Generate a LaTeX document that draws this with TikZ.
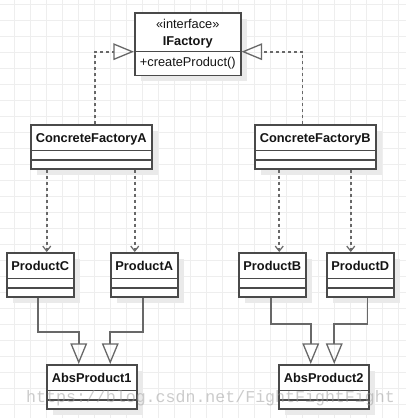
\documentclass[tikz,border=0pt]{standalone}
\usepackage{fontspec}
\setmainfont{Liberation Sans}
\newfontfamily\wmfont{Liberation Mono}
\usepackage{tikz}
\definecolor{umlline}{HTML}{4A4A4A}
\definecolor{umllink}{HTML}{686868}
\definecolor{umlshadow}{HTML}{EAEAEA}
\definecolor{gridgray}{HTML}{EEEEEE}
\usetikzlibrary{shapes.geometric, arrows, arrows.meta, shadows}
\tikzstyle{umlclass} = [rectangle, draw=umlline, line width=1.5pt, fill=white,
anchor=north west, inner sep=0pt, text height=17.5pt, text depth=26.5pt,
font=\fontsize{12.8pt}{17pt}\selectfont\bfseries,
drop shadow={shadow xshift=6pt, shadow yshift=-6pt, fill=umlshadow, opacity=1},
path picture={\draw[umlline, line width=1.5pt]
 ([yshift=-25.5pt]path picture bounding box.north west) -- ([yshift=-25.5pt]path picture bounding box.north east)
 ([yshift=-35pt]path picture bounding box.north west) -- ([yshift=-35pt]path picture bounding box.north east);}]
\tikzstyle{iface} = [rectangle, draw=umlline, line width=1.5pt, fill=white,
anchor=north west, inner sep=0pt, minimum width=106pt, minimum height=62.7pt, align=center,
drop shadow={shadow xshift=6pt, shadow yshift=-6pt, fill=umlshadow, opacity=1},
path picture={\draw[umlline, line width=1.5pt]
 ([yshift=-38.7pt]path picture bounding box.north west) -- ([yshift=-38.7pt]path picture bounding box.north east);}]
\tikzstyle{realize} = [umllink, line width=1.6pt, dash pattern=on 3pt off 3pt, -{Triangle[open, length=20.6pt, width=16.7pt, line width=1.3pt]}]
\tikzstyle{depend} = [umllink, line width=1.6pt, dash pattern=on 3pt off 3pt, -{Straight Barb[length=5pt, width=8pt, line width=1.2pt]}]
\tikzstyle{inherit} = [umllink, line width=1.8pt, -{Triangle[open, length=20.6pt, width=16.7pt, line width=1.3pt]}]
\tikzstyle{gridline} = [gridgray, line width=1pt]
\tikzstyle{watermark} = [font=\wmfont\fontsize{16.6pt}{18pt}\selectfont, text=black!40, text opacity=0.5, inner sep=0pt]

\begin{document}
\begin{tikzpicture}[x=1pt, y=-1pt, font=\fontsize{12.8pt}{17pt}\selectfont, text=black!92]
	\useasboundingbox (0,0) rectangle (406,418);
	\fill[white] (0,0) rectangle (406,418);
	% background grid
	\foreach \gx in {1,...,25} \draw[gridline] (\gx*16-1.7,0) -- (\gx*16-1.7,418);
	\foreach \gy in {0,...,25} \draw[gridline] (0,\gy*16+4) -- (406,\gy*16+4);

	\node (IFactory) [iface] at (134,12) {«interface»\\[0pt]\textbf{IFactory}\\[4.7pt]+createProduct()};
	\node (FactoryA) [umlclass, minimum width=121pt] at (30,124) {ConcreteFactoryA};
	\node (FactoryB) [umlclass, minimum width=121pt] at (254,124) {ConcreteFactoryB};
	\node (ProductC) [umlclass, minimum width=67pt] at (6,252) {ProductC};
	\node (ProductA) [umlclass, minimum width=67pt] at (110,252) {ProductA};
	\node (ProductB) [umlclass, minimum width=67pt] at (238,252) {ProductB};
	\node (ProductD) [umlclass, minimum width=67pt] at (326,252) {ProductD};
	\node (AbsProduct1) [umlclass, minimum width=90pt] at (46,364) {AbsProduct1};
	\node (AbsProduct2) [umlclass, minimum width=90pt] at (278,364) {AbsProduct2};

	\draw [realize] ([xshift=3.5pt]FactoryA.north) |- ([yshift=-7.6pt]IFactory.west);
	\draw [realize] ([xshift=-12.8pt]FactoryB.north) |- ([yshift=-7.6pt]IFactory.east);
	\draw [depend] ([xshift=6.5pt]ProductC.north |- FactoryA.south) -- ([xshift=6.5pt]ProductC.north);
	\draw [depend] ([xshift=-9.5pt]ProductA.north |- FactoryA.south) -- ([xshift=-9.5pt]ProductA.north);
	\draw [depend] ([xshift=7pt]ProductB.north |- FactoryB.south) -- ([xshift=7pt]ProductB.north);
	\draw [depend] ([xshift=-9.5pt]ProductD.north |- FactoryB.south) -- ([xshift=-9.5pt]ProductD.north);
	\draw [inherit] ([xshift=-2.5pt]ProductC.south) |- ([xshift=-13pt]AbsProduct1.north |- 0,332) -- ([xshift=-13pt]AbsProduct1.north);
	\draw [inherit] ([xshift=-1.4pt]ProductA.south) |- ([xshift=18.5pt]AbsProduct1.north |- 0,332) -- ([xshift=18.5pt]AbsProduct1.north);
	\draw [inherit] ([xshift=-1.5pt]ProductB.south) |- ([xshift=-13pt]AbsProduct2.north |- 0,324) -- ([xshift=-13pt]AbsProduct2.north);
	\draw [inherit] ([xshift=7.2pt]ProductD.south) |- ([xshift=10.5pt]AbsProduct2.north |- 0,324) -- ([xshift=10.5pt]AbsProduct2.north);

	\node (Mark) [watermark] at (210.5,398.5) {https://blog.csdn.net/FightFightFight};
\end{tikzpicture}
\end{document}
